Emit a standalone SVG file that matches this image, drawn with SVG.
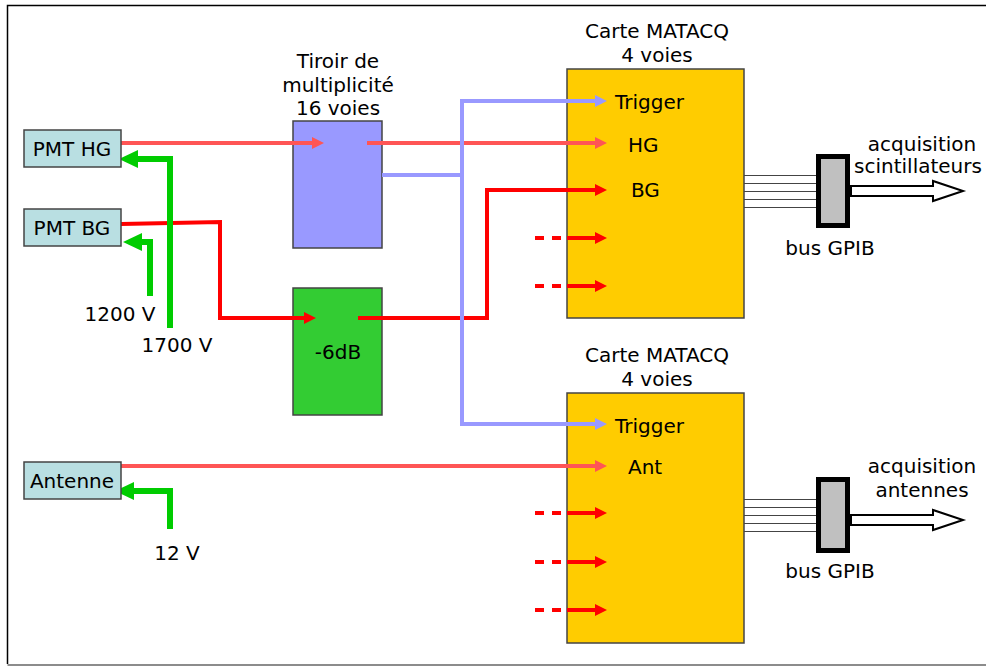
<svg xmlns="http://www.w3.org/2000/svg" width="986" height="666" viewBox="0 0 986 666">
<style>
text{font-family:"DejaVu Sans",Verdana,sans-serif;font-size:20px;fill:#000}
.c{text-anchor:middle}
.box{stroke:#444;stroke-width:1.5}
.pmt{fill:#b9dfe2}
.w{fill:none;stroke-linejoin:miter}
.sal{stroke:#ff5555;stroke-width:4}
.red{stroke:#ff0000;stroke-width:4}
.blu{stroke:#9999ff;stroke-width:4}
.grn{stroke:#00cc00;stroke-width:6}
.bus{stroke:#444;stroke-width:1}
</style>
<defs>
<marker id="aSal" markerUnits="userSpaceOnUse" viewBox="0 -7 12 14" refX="1" refY="0" markerWidth="12" markerHeight="14" orient="auto"><path d="M0,-6 L12,0 L0,6 z" fill="#ff5555"/></marker>
<marker id="aRed" markerUnits="userSpaceOnUse" viewBox="0 -7 12 14" refX="1" refY="0" markerWidth="12" markerHeight="14" orient="auto"><path d="M0,-6 L12,0 L0,6 z" fill="#ff0000"/></marker>
<marker id="aBlu" markerUnits="userSpaceOnUse" viewBox="0 -7 12 14" refX="1" refY="0" markerWidth="12" markerHeight="14" orient="auto"><path d="M0,-6 L12,0 L0,6 z" fill="#9999ff"/></marker>
<marker id="aGrn" markerUnits="userSpaceOnUse" viewBox="0 -10 20 20" refX="1" refY="0" markerWidth="20" markerHeight="20" orient="auto"><path d="M0,-9 L19,0 L0,9 z" fill="#00cc00"/></marker>
</defs>
<rect x="0" y="0" width="986" height="666" fill="#fff"/>
<path d="M990,5.5 H7.5 V664" fill="none" stroke="#000" stroke-width="1.5"/>
<path d="M7.5,665 H990" fill="none" stroke="#666" stroke-width="1.5"/>

<g id="tiroir"><rect class="box" x="293" y="121" width="89" height="127" fill="#9999ff"/>
<text class="c" x="338" y="68">Tiroir de</text><text class="c" x="338" y="92">multiplicité</text><text class="c" x="338" y="115">16 voies</text></g>
<g id="att"><rect class="box" x="293" y="288" width="89" height="127" fill="#33cc33"/><text class="c" x="338" y="359">-6dB</text></g>
<g id="matacq1"><rect class="box" x="567" y="69" width="177" height="249" fill="#ffcc00"/>
<text class="c" x="657" y="38">Carte MATACQ</text><text class="c" x="657" y="62">4 voies</text>
<text x="615" y="109">Trigger</text><text x="628" y="152">HG</text><text x="631" y="197">BG</text></g>
<g id="matacq2"><rect class="box" x="567" y="393" width="177" height="250" fill="#ffcc00"/>
<text class="c" x="657" y="362">Carte MATACQ</text><text class="c" x="657" y="386">4 voies</text>
<text x="615" y="433">Trigger</text><text x="628" y="474">Ant</text></g>

<g id="connectors">
<path class="w sal" d="M121,143 H313" marker-end="url(#aSal)"/>
<path class="w sal" d="M367,143 H596" marker-end="url(#aSal)"/>
<path class="w sal" d="M121,466 H596" marker-end="url(#aSal)"/>
<path class="w red" d="M121,224 L220,222 V318 H305" marker-end="url(#aRed)"/>
<path class="w red" d="M358,318 H487 V190 H596" marker-end="url(#aRed)"/>
<path class="w blu" d="M382,175 H462"/>
<path class="w blu" d="M462,424 V101 H596" marker-end="url(#aBlu)"/>
<path class="w blu" d="M462,422 V424 H596" marker-end="url(#aBlu)"/>
<path class="w grn" d="M170,328 V159 H137" marker-end="url(#aGrn)"/>
<path class="w grn" d="M150,296 V242 H141" marker-end="url(#aGrn)"/>
<path class="w grn" d="M170,529 V491 H133" marker-end="url(#aGrn)"/>
<g class="w red" stroke-dasharray="9 8">
<path d="M535,238 H561"/><path d="M535,286 H561"/><path d="M535,513 H561"/><path d="M535,562 H561"/><path d="M535,610 H561"/>
</g>
<path class="w red" d="M567,238 H596" marker-end="url(#aRed)"/>
<path class="w red" d="M567,286 H596" marker-end="url(#aRed)"/>
<path class="w red" d="M567,513 H596" marker-end="url(#aRed)"/>
<path class="w red" d="M567,562 H596" marker-end="url(#aRed)"/>
<path class="w red" d="M567,610 H596" marker-end="url(#aRed)"/>
<g class="bus">
<path d="M744,175.5 H816 M744,183.5 H816 M744,191.5 H816 M744,199.5 H816 M744,207.5 H816"/>
<path d="M744,499.5 H816 M744,507.5 H816 M744,515.5 H816 M744,523.5 H816 M744,531.5 H816"/>
</g>
</g>

<g id="pmthg"><rect class="box pmt" x="24" y="130" width="97" height="37"/><text class="c" x="72" y="156">PMT HG</text></g>
<g id="pmtbg"><rect class="box pmt" x="24" y="209" width="97" height="37"/><text class="c" x="72" y="235">PMT BG</text></g>
<g id="antenne"><rect class="box pmt" x="24" y="462" width="97" height="37"/><text class="c" x="72" y="488">Antenne</text></g>

<g id="hv"><text class="c" x="120" y="321">1200 V</text><text class="c" x="177" y="352">1700 V</text><text class="c" x="177" y="560">12 V</text></g>

<g id="gpib1"><rect x="818.5" y="156.5" width="29" height="69" fill="#c0c0c0" stroke="#000" stroke-width="5"/>
<path d="M851,186 H933 V181 L963,191 L933,201 V196 H851 z" fill="#fff" stroke="#000" stroke-width="2"/>
<text class="c" x="830" y="255">bus GPIB</text><text class="c" x="922" y="151">acquisition</text><text class="c" x="918" y="173">scintillateurs</text></g>
<g id="gpib2"><rect x="818.5" y="479.5" width="29" height="71" fill="#c0c0c0" stroke="#000" stroke-width="5"/>
<path d="M851,515 H933 V510 L963,520 L933,530 V525 H851 z" fill="#fff" stroke="#000" stroke-width="2"/>
<text class="c" x="830" y="578">bus GPIB</text><text class="c" x="922" y="473">acquisition</text><text class="c" x="922" y="497">antennes</text></g>
</svg>
